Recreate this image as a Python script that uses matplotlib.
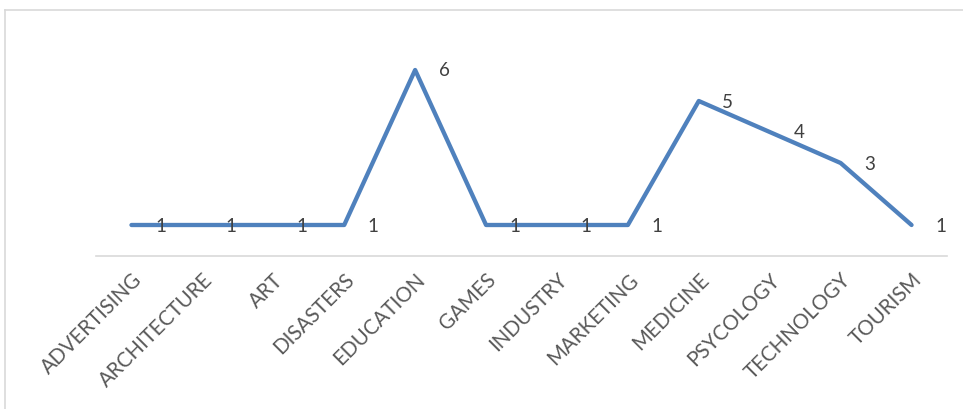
import matplotlib.pyplot as plt
from matplotlib.lines import Line2D

categories = ['ADVERTISING', 'ARCHITECTURE', 'ART', 'DISASTERS', 'EDUCATION', 'GAMES',
              'INDUSTRY', 'MARKETING', 'MEDICINE', 'PSYCOLOGY', 'TECHNOLOGY', 'TOURISM']
counts = [1, 1, 1, 1, 6, 1, 1, 1, 5, 4, 3, 1]

plt.rcParams['font.family'] = ['Lato', 'DejaVu Sans']

W, H = 963, 409
fig = plt.figure(figsize=(W / 100, H / 100), dpi=100)
ax = fig.add_axes([96 / W, 1 - 256 / H, (947 - 96) / W, (256 - 39) / H])

x = list(range(len(categories)))
ax.plot(x, counts, color='#4F81BD', linewidth=3.1, solid_capstyle='round',
        solid_joinstyle='round')

for xi, v in zip(x, counts):
    ax.annotate(str(v), (xi, v), xytext=(29, -1), textcoords='offset pixels',
                ha='center', va='center', fontsize=13.5, color='#404040')

ax.set_xlim(-0.5, len(categories) - 0.5)
ax.set_ylim(0, 7)
ax.set_xticks(x)
ax.set_xticklabels(categories, rotation=45, ha='right', va='top',
                   rotation_mode='anchor', fontsize=14.8, color='#595959')
ax.tick_params(axis='x', length=0, pad=10)
ax.set_yticks([])
for s in ['top', 'right', 'left']:
    ax.spines[s].set_visible(False)
ax.spines['bottom'].set_color('#D9D9D9')
ax.spines['bottom'].set_linewidth(1.2)

# chart border (only top and left visible in the crop)
fig.add_artist(Line2D([4.5 / W, 1], [1 - 9.5 / H, 1 - 9.5 / H], color='#D9D9D9', linewidth=1.2))
fig.add_artist(Line2D([4.5 / W, 4.5 / W], [0, 1 - 9.5 / H], color='#D9D9D9', linewidth=1.2))

fig.savefig('out.png', dpi=100)
